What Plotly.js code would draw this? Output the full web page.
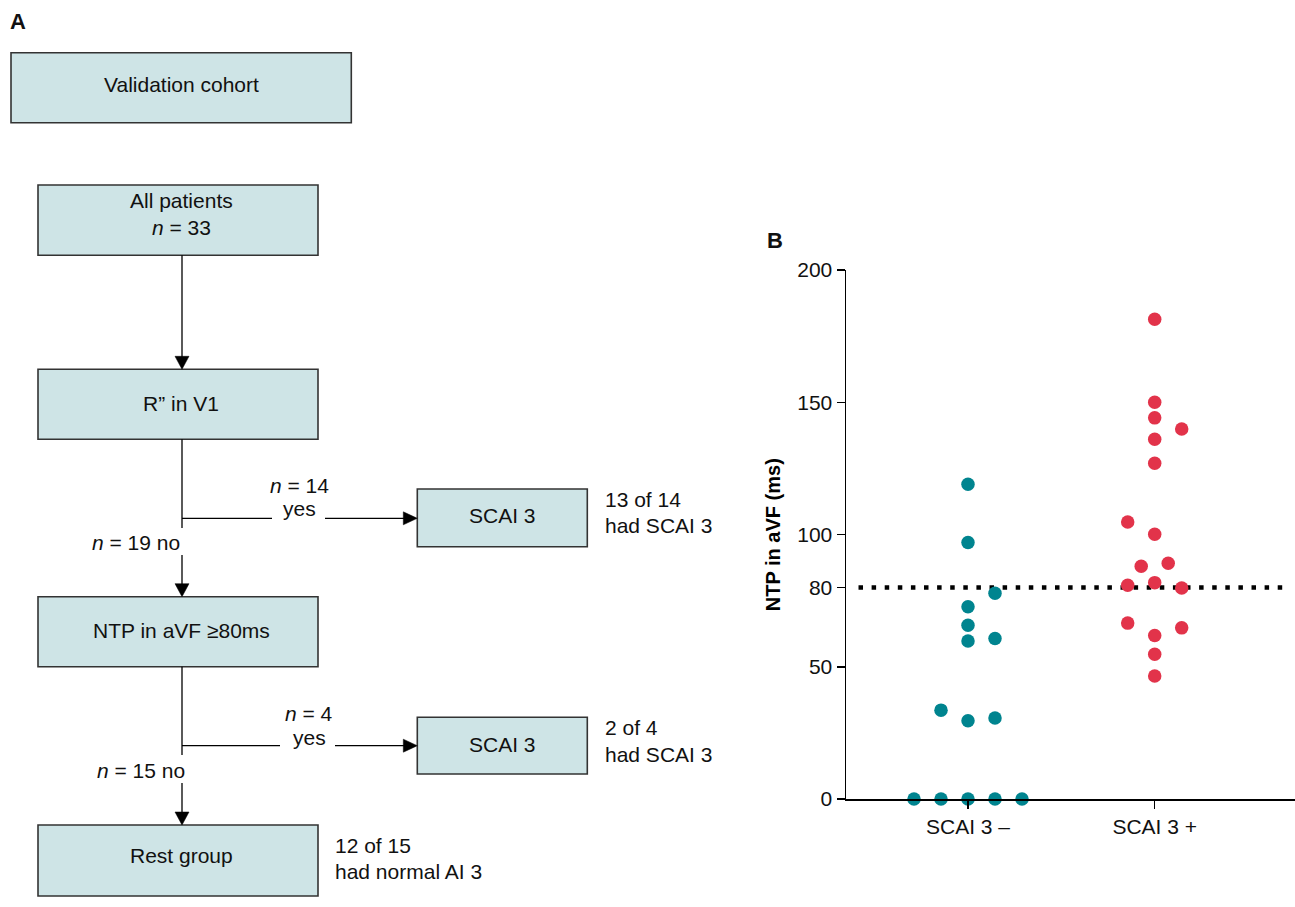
<!DOCTYPE html>
<html><head><meta charset="utf-8">
<script src="https://cdn.plot.ly/plotly-3.0.1.min.js"></script>
<style>html,body{margin:0;padding:0;background:#fff}</style>
</head><body><div id="chart" style="width:1295px;height:907px"></div>
<script>
// ---------- data ----------
const groupLabels = ["SCAI 3 \u2013", "SCAI 3 +"];
const yTickValues = [0, 50, 80, 100, 150, 200];
const thresholdMs = 80;
const yAxisTitle = "NTP in aVF (ms)";
// NTP in aVF (ms), SCAI 3 negative group
const scaiNegValues = [119, 97, 77.8, 72.7, 65.7, 59.7, 60.7, 33.6, 29.6, 30.6, 0, 0, 0, 0, 0];
// beeswarm column slot of each point
const scaiNegSlots  = [0, 0, 2, 0, 0, 0, 2, -2, 0, 2, -4, -2, 0, 2, 4];
// NTP in aVF (ms), SCAI 3 positive group
const scaiPosValues = [181.4, 150, 144.1, 139.9, 136, 126.9, 104.7, 100.1, 88, 89.1, 80.8, 81.8, 79.8, 66.5, 64.7, 61.8, 54.7, 46.5];
const scaiPosSlots  = [0, 0, 0, 2, 0, 0, -2, 0, -1, 1, -2, 0, 2, -2, 2, 0, 0, 0];

// flowchart texts
const txtCohort = "Validation cohort";
const txtAll = "All patients<br><i>n</i> = 33";
const txtR = "R\u201D in V1";
const txtNTP = "NTP in aVF \u226580ms";
const txtSCAI = "SCAI 3";
const txtRest = "Rest group";
const txtBranch1 = ["<i>n</i> = 14", "yes", "<i>n</i> = 19 no"];
const txtBranch2 = ["<i>n</i> = 4", "yes", "<i>n</i> = 15 no"];
const txtOutcome1 = ["13 of 14", "had SCAI 3"];
const txtOutcome2 = ["2 of 4", "had SCAI 3"];
const txtOutcome3 = ["12 of 15", "had normal AI 3"];

// ---------- layout helpers ----------
const W = 1295, H = 907;
const px = x => x / W;
const py = y => 1 - y / H;
const FONT = "Liberation Sans, Arial, Helvetica, sans-serif";
const TXT = "#111111";
const BOXFILL = "#cee4e6";
const BOXLINE = "#333333";
const SLOT_W = 0.0723;

const shapes = [];
const annotations = [];

function box(x0, y0, x1, y1) {
  shapes.push({type: "rect", xref: "paper", yref: "paper",
    x0: px(x0), x1: px(x1), y0: py(y1), y1: py(y0),
    fillcolor: BOXFILL, line: {color: BOXLINE, width: 1.6}, layer: "above"});
}
function seg(x0, y0, x1, y1) {
  shapes.push({type: "line", xref: "paper", yref: "paper",
    x0: px(x0), x1: px(x1), y0: py(y0), y1: py(y1),
    line: {color: "#000", width: 1.3}, layer: "above"});
}
function headDown(x, yTip) {
  const p = `M${px(x - 7)},${py(yTip - 13)} L${px(x + 7)},${py(yTip - 13)} L${px(x)},${py(yTip)} Z`;
  shapes.push({type: "path", xref: "paper", yref: "paper", path: p,
    fillcolor: "#000", line: {color: "#000", width: 0.5}, layer: "above"});
}
function headRight(xTip, y) {
  const p = `M${px(xTip - 14)},${py(y - 6.5)} L${px(xTip - 14)},${py(y + 6.5)} L${px(xTip)},${py(y)} Z`;
  shapes.push({type: "path", xref: "paper", yref: "paper", path: p,
    fillcolor: "#000", line: {color: "#000", width: 0.5}, layer: "above"});
}
function label(text, x, y, xanchor, size, bold) {
  annotations.push({text: bold ? "<b>" + text + "</b>" : text,
    xref: "paper", yref: "paper", x: px(x), y: py(y),
    xanchor: xanchor || "center", yanchor: "middle", showarrow: false,
    font: {family: FONT, size: size || 21, color: TXT}});
}

// panel letters
label("A", 18, 22, "center", 22, true);
label("B", 775, 240, "center", 22, true);

// boxes
box(11, 52.7, 351.3, 122.7);
box(38, 185, 318, 255.3);
box(38, 369.3, 318, 439.3);
box(38, 596.7, 318, 666.7);
box(38, 825, 318, 896);
box(417.3, 489, 587.3, 546.7);
box(417.3, 717.3, 587.3, 774);

// connectors
const CX = 182;
seg(CX, 255.3, CX, 357); headDown(CX, 369.3);
seg(CX, 439.3, CX, 528); seg(CX, 555, CX, 585); headDown(CX, 596.7);
seg(CX, 518.3, 272, 518.3); seg(325, 518.3, 405, 518.3); headRight(417.3, 518.3);
seg(CX, 666.7, CX, 755); seg(CX, 783, CX, 813); headDown(CX, 825);
seg(CX, 745.7, 280, 745.7); seg(335, 745.7, 405, 745.7); headRight(417.3, 745.7);

// box texts
label(txtCohort, 181, 85);
label(txtAll, 181, 213.5);
label(txtR, 181, 403.5);
label(txtNTP, 181, 630);
label(txtRest, 181, 855);
label(txtSCAI, 502.7, 515.7);
label(txtSCAI, 502.7, 744.3);

// branch texts
label(txtBranch1[0], 299, 485);
label(txtBranch1[1], 299, 508.5);
label(txtBranch1[2], 182, 542, "right");
label(txtBranch2[0], 309, 713);
label(txtBranch2[1], 309, 737.5);
label(txtBranch2[2], 187, 770, "right");

// outcome texts
label(txtOutcome1[0], 603, 499.3, "left");
label(txtOutcome1[1], 603, 525, "left");
label(txtOutcome2[0], 603, 727.3, "left");
label(txtOutcome2[1], 603, 754.3, "left");
label(txtOutcome3[0], 332.7, 845, "left");
label(txtOutcome3[1], 332.7, 871.7, "left");

// y axis title (panel B)
annotations.push({text: "<b>" + yAxisTitle + "</b>", xref: "paper", yref: "paper",
  x: px(772.7), y: py(534.5), xanchor: "center", yanchor: "middle", textangle: -90,
  showarrow: false, font: {family: FONT, size: 20, color: "#000"}});

// threshold dotted line
shapes.push({type: "line", xref: "x", yref: "y", x0: -0.5865, x1: 1.6845,
  y0: thresholdMs, y1: thresholdMs, layer: "below",
  line: {color: "#000", width: 4.5, dash: "4.5px,8.6px"}});

// ---------- traces ----------
const traces = [
  {type: "scatter", mode: "markers", name: groupLabels[0],
   x: scaiNegSlots.map(s => 0 + s * SLOT_W), y: scaiNegValues,
   marker: {color: "#00848f", size: 13.5}, cliponaxis: false, hoverinfo: "y"},
  {type: "scatter", mode: "markers", name: groupLabels[1],
   x: scaiPosSlots.map(s => 1 + s * SLOT_W), y: scaiPosValues,
   marker: {color: "#e2334a", size: 13.5}, cliponaxis: false, hoverinfo: "y"}
];

const axisFont = {family: FONT, size: 21, color: TXT};
const layout = {
  width: W, height: H,
  margin: {l: 0, r: 0, t: 0, b: 0},
  paper_bgcolor: "#fff", plot_bgcolor: "rgba(0,0,0,0)",
  showlegend: false,
  xaxis: {domain: [846 / W, 1], range: [-0.6535, 1.7515],
    tickvals: [0, 1], ticktext: groupLabels, ticks: "outside", ticklen: 8,
    tickwidth: 1.5, tickcolor: "#000", showline: true, linecolor: "#000", linewidth: 1.5,
    showgrid: false, zeroline: false, tickfont: axisFont, fixedrange: true},
  yaxis: {domain: [1 - 799 / H, 1 - 270 / H], range: [0, 200],
    tickvals: yTickValues, ticks: "outside", ticklen: 8, tickwidth: 1.5, tickcolor: "#000",
    showline: true, linecolor: "#000", linewidth: 1.5, showgrid: false, zeroline: false,
    tickfont: axisFont, fixedrange: true},
  shapes: shapes,
  annotations: annotations
};

Plotly.newPlot("chart", traces, layout, {displayModeBar: false, staticPlot: true});
</script>
</body></html>
